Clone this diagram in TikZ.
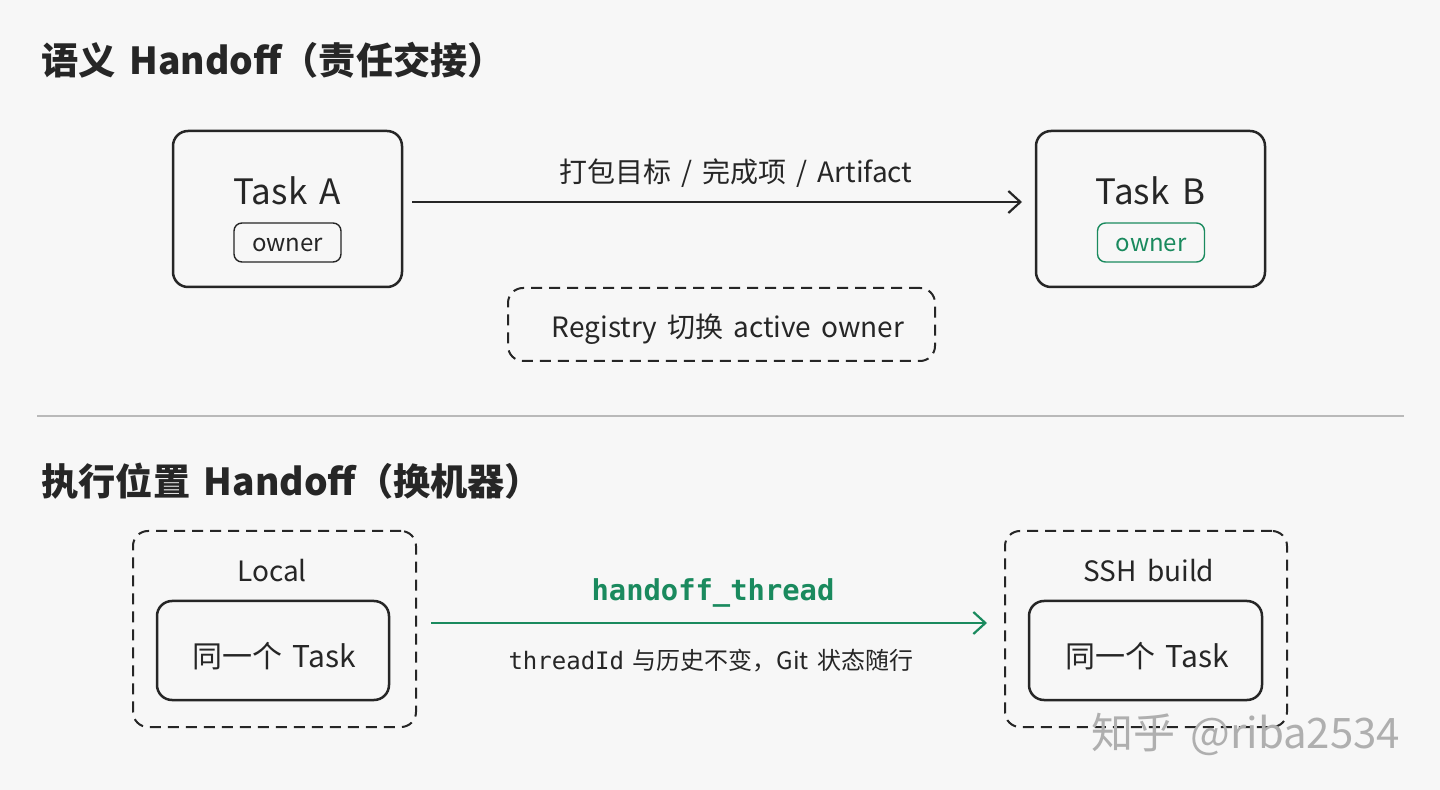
\documentclass[tikz,border=0pt]{standalone}
\usepackage{fontspec}
\setmainfont[WordSpace=1.6]{Noto Sans CJK SC}
\setmonofont{DejaVu Sans Mono}
\usetikzlibrary{arrows.meta}
\definecolor{bg}{RGB}{247,247,247}
\definecolor{ink}{RGB}{38,38,38}
\definecolor{grn}{RGB}{26,138,94}
\definecolor{sepc}{RGB}{185,185,185}
\definecolor{wm}{RGB}{175,175,175}
\tikzset{
  solidbox/.style={draw=ink, line width=1.25pt, rounded corners=7.5pt, inner sep=0pt},
  dashbox/.style={draw=ink, line width=1pt, rounded corners=7.5pt, inner sep=0pt, dash pattern=on 5.5pt off 3.5pt},
  tagbox/.style={draw=ink, line width=0.7pt, rounded corners=4pt, inner sep=0pt, minimum width=53.5pt, minimum height=19.5pt},
  title/.style={anchor=base west, inner sep=0pt, text=ink, font=\fontsize{18.6pt}{22pt}\selectfont\bfseries},
  lbl/.style={inner sep=0pt, text=ink},
  arr/.style={draw=ink, line width=1.1pt, -{Straight Barb[length=6pt,width=11pt,line width=1.1pt]}},
}
\begin{document}
\begin{tikzpicture}[x=0.5pt,y=-0.5pt]
\fill[bg] (0,0) rectangle (1440,790);
\useasboundingbox (0,0) rectangle (1440,790);

% Section 1
\node[title] (t1) at (41,75) {语义 Handoff（责任交接）};

\node[solidbox, minimum width=114.5pt, minimum height=78pt] (ta) at (287.5,209) {};
\node[lbl, font=\fontsize{17.5pt}{20pt}\selectfont] (taL) at (287.5,191) {Task A};
\node[tagbox] (taO) at (287.5,242.5) {};
\node[lbl, font=\fontsize{12pt}{14pt}\selectfont] (taOL) at (287.5,244.5) {owner};

\node[solidbox, minimum width=114.5pt, minimum height=78pt] (tb) at (1150.5,209) {};
\node[lbl, font=\fontsize{17.5pt}{20pt}\selectfont] (tbL) at (1150.5,191) {Task B};
\node[tagbox, draw=grn] (tbO) at (1151,242.5) {};
\node[lbl, text=grn, font=\fontsize{12pt}{14pt}\selectfont] (tbOL) at (1151,244.5) {owner};

\coordinate (a1) at (412,202);
\coordinate (a2) at (1022,202);
\draw[arr] (a1) -- (a2);
\node[lbl, font=\fontsize{14pt}{16pt}\selectfont] (al) at (736,173) {打包目标 / 完成项 / Artifact};

\node[dashbox, minimum width=213.5pt, minimum height=36.5pt] (reg) at (721.5,324.5) {};
\node[lbl, font=\fontsize{14pt}{16pt}\selectfont] (regL) at (728,329) {Registry 切换 active owner};

% separator
\coordinate (s1) at (37,416);
\coordinate (s2) at (1404,416);
\draw[sepc, line width=0.6pt] (s1) -- (s2);

% Section 2
\node[title] (t2) at (41,496) {执行位置 Handoff（换机器）};

\node[dashbox, minimum width=141.5pt, minimum height=98pt] (loc) at (274.5,629) {};
\node[lbl, font=\fontsize{14pt}{16pt}\selectfont] (locL) at (272,571) {Local};
\node[solidbox, minimum width=116pt, minimum height=49.5pt] (locT) at (273,650.5) {};
\node[lbl, font=\fontsize{15pt}{17pt}\selectfont] (locTL) at (274,656) {同一个 Task};

\node[dashbox, minimum width=141pt, minimum height=98pt] (ssh) at (1146,629) {};
\node[lbl, font=\fontsize{14pt}{16pt}\selectfont] (sshL) at (1149,571) {SSH build};
\node[solidbox, minimum width=116.5pt, minimum height=49.5pt] (sshT) at (1145.5,650.5) {};
\node[lbl, font=\fontsize{15pt}{17pt}\selectfont] (sshTL) at (1147,656) {同一个 Task};

\coordinate (g1) at (431,623);
\coordinate (g2) at (987,623);
\draw[arr, draw=grn] (g1) -- (g2);
\node[lbl, text=grn, font=\fontsize{14.4pt}{16pt}\ttfamily\bfseries] (gl) at (713,593) {handoff\_thread};
\node[lbl, font=\fontsize{12pt}{15pt}\selectfont] (gl2) at (711,661) {{\ttfamily threadId} 与历史不变，Git 状态随行};

% watermark
\node[anchor=base west, inner sep=0pt, text=wm, font=\fontsize{21pt}{24pt}\selectfont] (wmk) at (1091,748) {知乎 @riba2534};
\end{tikzpicture}
\end{document}
